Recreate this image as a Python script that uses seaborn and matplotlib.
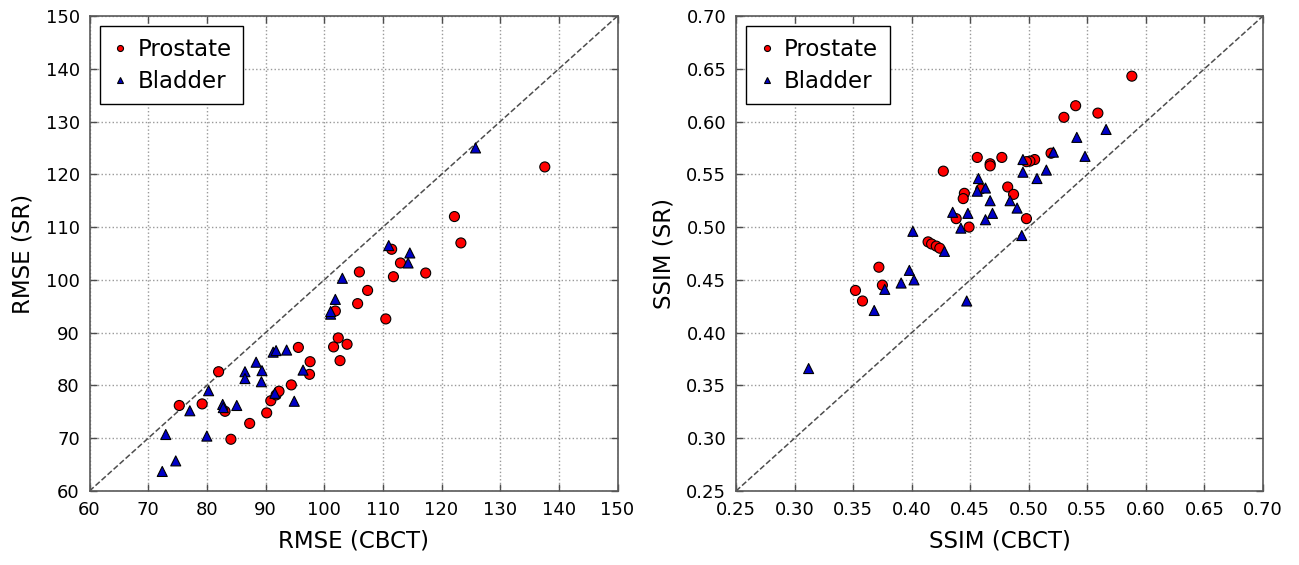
import numpy as np
import pandas as pd
import matplotlib
matplotlib.use("Agg")
import matplotlib.pyplot as plt
import seaborn as sns

# RMSE values
rmse_prostate_cbct = [75.3, 79.2, 82.0, 83.1, 84.1, 87.3, 90.2, 90.9, 91.8, 92.3,
                      94.4, 95.6, 97.6, 97.5, 101.6, 102.4, 102.7, 103.9, 101.9, 105.7,
                      106.0, 107.4, 110.5, 111.5, 111.8, 113.0, 117.3, 122.2, 123.3, 137.6]
rmse_prostate_sr = [76.2, 76.5, 82.6, 75.1, 69.8, 72.8, 74.8, 77.1, 78.2, 78.9,
                    80.1, 87.2, 84.5, 82.1, 87.3, 89.0, 84.7, 87.8, 94.1, 95.5,
                    101.5, 98.0, 92.6, 105.8, 100.6, 103.2, 101.3, 112.0, 107.0, 121.4]
rmse_bladder_cbct = [72.4, 73.0, 74.7, 77.1, 80.0, 80.3, 82.7, 82.8, 85.1, 86.5,
                     86.5, 88.4, 89.4, 89.3, 91.3, 91.8, 93.6, 91.6, 94.9, 96.4,
                     101.1, 101.1, 101.9, 103.1, 111.0, 114.6, 114.3, 125.8]
rmse_bladder_sr = [63.7, 70.7, 65.7, 75.2, 70.4, 79.0, 76.4, 75.8, 76.2, 82.6,
                   81.3, 84.4, 82.8, 80.7, 86.3, 86.6, 86.7, 78.5, 77.0, 82.9,
                   93.5, 94.0, 96.3, 100.3, 106.5, 105.1, 103.2, 125.0]

# SSIM values
ssim_prostate_cbct = [0.588, 0.540, 0.559, 0.530, 0.519, 0.505, 0.501, 0.498, 0.467, 0.467,
                      0.456, 0.477, 0.427, 0.459, 0.482, 0.487, 0.445, 0.444, 0.438, 0.449,
                      0.498, 0.414, 0.417, 0.421, 0.424, 0.372, 0.375, 0.352, 0.358]
ssim_prostate_sr = [0.643, 0.615, 0.608, 0.604, 0.570, 0.564, 0.5625, 0.562, 0.560, 0.558,
                    0.566, 0.566, 0.553, 0.536, 0.538, 0.531, 0.532, 0.527, 0.508, 0.500,
                    0.508, 0.486, 0.484, 0.482, 0.480, 0.462, 0.445, 0.440, 0.430]
ssim_bladder_cbct = [0.566, 0.541, 0.548, 0.521, 0.495, 0.495, 0.515, 0.507, 0.457, 0.463,
                     0.456, 0.467, 0.484, 0.490, 0.469, 0.448, 0.435, 0.463, 0.442, 0.494,
                     0.401, 0.428, 0.398, 0.402, 0.391, 0.377, 0.447, 0.368, 0.312]
ssim_bladder_sr = [0.5925, 0.585, 0.567, 0.571, 0.564, 0.552, 0.554, 0.546, 0.546, 0.537,
                   0.534, 0.525, 0.525, 0.518, 0.513, 0.513, 0.514, 0.507, 0.499, 0.492,
                   0.496, 0.477, 0.459, 0.450, 0.447, 0.441, 0.430, 0.421, 0.366]

rmse_ticks = np.arange(60, 151, 10)
ssim_ticks = np.arange(0.25, 0.701, 0.05)


def make_frame(pc, ps, bc, bs):
    return pd.concat([
        pd.DataFrame({"cbct": pc, "sr": ps, "site": "Prostate"}),
        pd.DataFrame({"cbct": bc, "sr": bs, "site": "Bladder"}),
    ], ignore_index=True)


rmse_df = make_frame(rmse_prostate_cbct, rmse_prostate_sr, rmse_bladder_cbct, rmse_bladder_sr)
ssim_df = make_frame(ssim_prostate_cbct, ssim_prostate_sr, ssim_bladder_cbct, ssim_bladder_sr)

sns.set_style("white")
plt.rcParams["font.family"] = ["DejaVu Sans"]
plt.rcParams["text.color"] = "black"
plt.rcParams["axes.labelcolor"] = "black"
plt.rcParams["xtick.color"] = "black"
plt.rcParams["ytick.color"] = "black"

fig = plt.figure(figsize=(12.99, 5.65), dpi=100)
ax1 = fig.add_axes([0.0689, 0.131, 0.4065, 0.8407])
ax2 = fig.add_axes([0.5666, 0.131, 0.4057, 0.8407])

panels = [
    (ax1, rmse_df, rmse_ticks, "RMSE (CBCT)", "RMSE (SR)", "{:.0f}"),
    (ax2, ssim_df, ssim_ticks, "SSIM (CBCT)", "SSIM (SR)", "{:.2f}"),
]

for ax, df, ticks, xlabel, ylabel, fmt in panels:
    lo, hi = ticks[0], ticks[-1]
    ax.plot([lo, hi], [lo, hi], color="0.3", linestyle="--", linewidth=1.1, zorder=1)
    sns.scatterplot(data=df, x="cbct", y="sr", hue="site", style="site",
                    palette={"Prostate": "#ff0000", "Bladder": "#0000c8"},
                    markers={"Prostate": "o", "Bladder": "^"},
                    s=52, edgecolor="black", linewidth=0.8, ax=ax, zorder=3)
    ax.set_xlim(lo, hi)
    ax.set_ylim(lo, hi)
    ax.set_xticks(ticks)
    ax.set_yticks(ticks)
    ax.set_xticklabels([fmt.format(t) for t in ticks], fontsize=13)
    ax.set_yticklabels([fmt.format(t) for t in ticks], fontsize=13)
    ax.set_xlabel(xlabel, fontsize=16.5, labelpad=8)
    ax.set_ylabel(ylabel, fontsize=16.5, labelpad=8)
    ax.grid(True, linestyle=":", color="0.6", linewidth=1)
    ax.tick_params(direction="in", length=5, width=1, top=True, right=True,
                   bottom=True, left=True, color="0.3", pad=7)
    for sp in ax.spines.values():
        sp.set_color("0.35")
        sp.set_linewidth(1.2)
    leg = ax.legend(loc="upper left", fontsize=16.5, frameon=True, fancybox=False,
                    edgecolor="black", framealpha=1, markerscale=0.6,
                    handlelength=0.8, handletextpad=0.35, borderpad=0.5,
                    labelspacing=0.4, borderaxespad=0.45)
    leg.get_frame().set_linewidth(1.0)

fig.savefig("out.png", dpi=100)
